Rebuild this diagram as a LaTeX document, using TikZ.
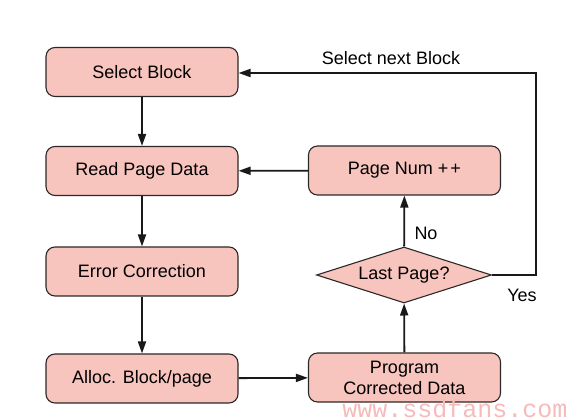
\documentclass[tikz,border=0pt]{standalone}
\usepackage{fontspec}
\setmainfont{Liberation Sans}
\newfontfamily\wmfont{Liberation Mono}
\usetikzlibrary{shapes.geometric,arrows.meta}
\definecolor{boxfill}{RGB}{247,196,190}
\definecolor{boxline}{RGB}{45,40,40}
\definecolor{wmcol}{RGB}{246,186,186}
\begin{document}
\begin{tikzpicture}[x=1pt,y=-1pt,
  font=\fontsize{18}{20}\selectfont,
  stepbox/.style={draw=boxline,line width=1.1pt,fill=boxfill,rounded corners=9pt,
    minimum width=192pt,minimum height=49pt,inner sep=0pt,align=center},
  decbox/.style={draw=boxline,line width=1.1pt,fill=boxfill,diamond,aspect=3.1,
    minimum width=175pt,minimum height=56pt,inner sep=0pt},
  conn/.style={draw=black!90,line width=1.8pt,-{Triangle[length=12pt,width=8pt]}},
  lbl/.style={inner sep=0pt}]
\useasboundingbox (0,0) rectangle (570,419);
\node[stepbox] (sel) at (142,72) {Select Block};
\node[stepbox] (read) at (142,171) {Read Page Data};
\node[stepbox] (err) at (142,271.5) {Error Correction};
\node[stepbox] (alloc) at (142,378.5) {Alloc. Block/page};
\node[stepbox] (pnum) at (404.5,170.5) {Page Num +\kern2pt+};
\node[decbox] (last) at (404,275) {Last Page?};
\node[stepbox,font=\fontsize{18}{21}\selectfont] (prog) at (404.5,377.5) {Program\\Corrected Data};
\coordinate (c1) at (536,275);
\coordinate (c2) at (536,73);
\draw[conn] (sel) -- (read);
\draw[conn] (read) -- (err);
\draw[conn] (err) -- (alloc);
\draw[conn] (alloc) -- (prog);
\draw[conn] (prog) -- (last);
\draw[conn] (last) -- (pnum);
\draw[conn] (pnum) -- (read);
\draw[conn] (last.east) -- (c1) -- (c2) -- (sel.east |- c2);
\node[lbl] (lsel) at (391,58) {Select next Block};
\node[lbl] (lno) at (426,233) {No};
\node[lbl] (lyes) at (522,295) {Yes};
\node[lbl,anchor=base,text=wmcol,font=\wmfont\fontsize{25}{25}\selectfont] (wm) at (455,417) {www.ssdfans.com};
\end{tikzpicture}
\end{document}
